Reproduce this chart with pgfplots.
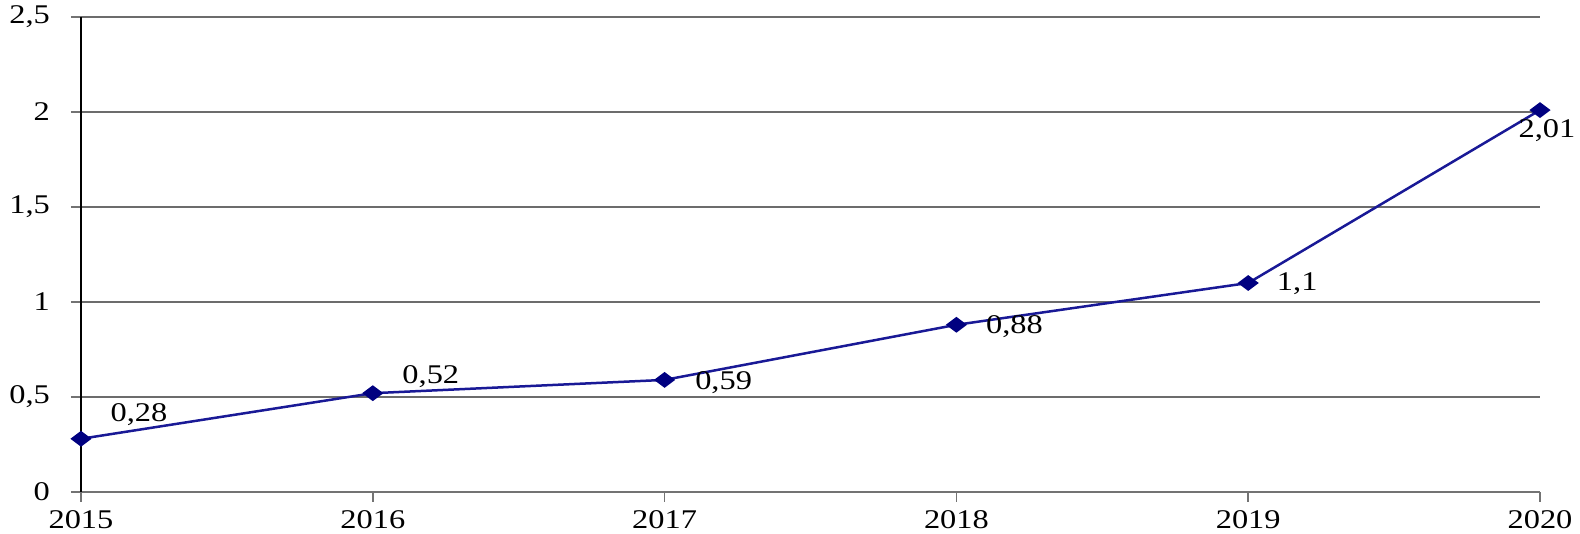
\documentclass[border=0pt]{standalone}
\usepackage{fontspec}
\setmainfont{Liberation Serif}[FakeStretch=1.2]
\usepackage{pgfplots}
\pgfplotsset{compat=1.18}
\usepackage{pgfplotstable}
\definecolor{navy}{RGB}{0,0,128}
\definecolor{lineblue}{RGB}{25,25,150}
\pgfplotstableread{
x y lab dx dy
0 0.28 0,28 29 12
1 0.52 0,52 29 8.5
2 0.59 0,59 29.5 -1.5
3 0.88 0,88 29 -1
4 1.10 1,1 24.5 -0.5
5 2.01 2,01 3.5 -10.5
}\datatable
\begin{document}
\begin{tikzpicture}
\begin{axis}[
  scale only axis, width=729.5pt, height=237.5pt,
  xmin=0, xmax=5, ymin=0, ymax=2.5,
  axis x line=bottom, axis y line=left,
  axis line style={-},
  x axis line style={gray!90!black, line width=0.75pt},
  y axis line style={black, line width=0.75pt},
  xtick={0,1,2,3,4,5},
  xticklabels={2015,2016,2017,2018,2019,2020},
  ytick={0,0.5,1,1.5,2,2.5},
  yticklabels={0,{0,5},1,{1,5},2,{2,5}},
  ymajorgrids, grid style={gray!85!black, line width=0.75pt},
  tick align=outside, major tick length=5pt,
  tick style={gray!90!black, line width=0.75pt},
  tick label style={font=\fontsize{13.5}{15}\selectfont},
  /pgf/number format/assume math mode=true,
  yticklabel style={xshift=-7pt},
  xticklabel style={inner sep=0.5pt, yshift=-3.5pt},
  clip=false,
]
\addplot[lineblue, line width=1.25pt, mark=diamond*, mark size=4.25pt,
  mark options={navy, fill=navy, rotate=90},
  nodes near coords, point meta=explicit symbolic,
  visualization depends on={\thisrow{dx} \as \dx},
  visualization depends on={\thisrow{dy} \as \dy},
  every node near coord/.append style={anchor=center, xshift=\dx pt, yshift=\dy pt,
    font=\fontsize{13.5}{15}\selectfont, text=black}]
  table[x=x, y=y, meta=lab]{\datatable};
\coordinate (ll) at (rel axis cs:0,0);
\coordinate (ur) at (rel axis cs:1,1);
\end{axis}
\pgfresetboundingbox
\path ([shift={(-40.5pt,-21pt)}]ll) rectangle ([shift={(20pt,8.5pt)}]ur);
\end{tikzpicture}
\end{document}
